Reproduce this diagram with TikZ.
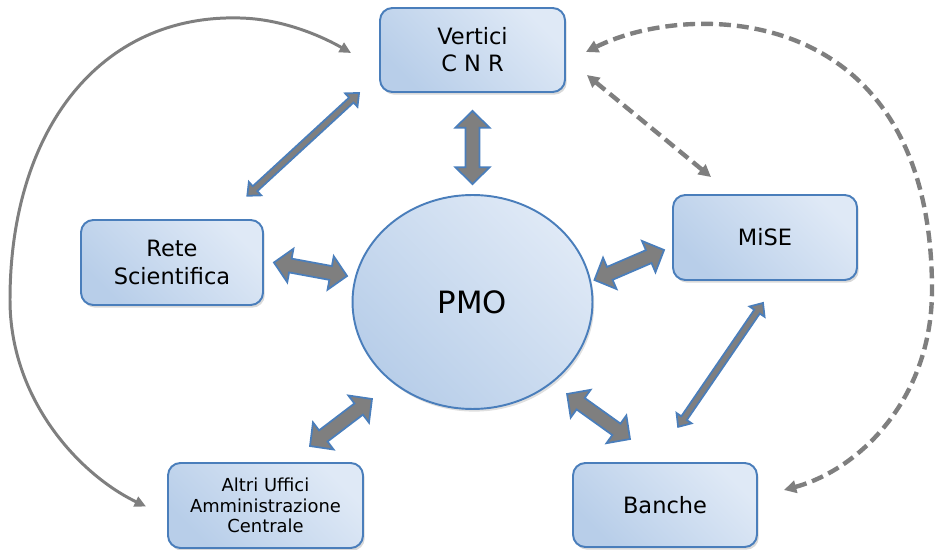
\documentclass[tikz,border=0pt]{standalone}
\usepackage{fontspec}
\setmainfont{DejaVu Sans}
\usetikzlibrary{arrows.meta,calc,shapes.geometric,shadows}

\definecolor{boxline}{HTML}{4A7EBB}
\definecolor{boxlight}{HTML}{DFE9F6}
\definecolor{boxdark}{HTML}{B8CEE9}
\definecolor{arrowgray}{HTML}{7F7F7F}

\begin{document}
\begin{tikzpicture}[x=0.02cm, y=-0.02cm,
    unit/.style={draw=boxline, line width=1.1pt, rounded corners=7pt, inner sep=1pt,
      minimum width=3.7cm, minimum height=1.68cm, align=center,
      font=\fontsize{12.8}{15.5}\selectfont,
      top color=boxlight, bottom color=boxdark, shading angle=-45,
      drop shadow={opacity=0.3, shadow xshift=1pt, shadow yshift=-1.5pt}},
    hub/.style={ellipse, draw=boxline, line width=1.1pt, minimum width=4.8cm, minimum height=4.28cm,
      font=\fontsize{17.5}{20}\selectfont,
      top color=boxlight, bottom color=boxdark, shading angle=-45,
      drop shadow={opacity=0.25, shadow xshift=1pt, shadow yshift=-1.5pt}},
    blockarrow/.style n args={3}{draw=boxline, fill=arrowgray, line width=1pt, line join=miter,
      to path={let \p1=(\tikztostart), \p2=(\tikztotarget),
        \n1={atan2(\y2-\y1,\x2-\x1)}, \n2={veclen(\x2-\x1,\y2-\y1)} in
        [shift={(\p1)}, rotate=\n1]
        (0pt,0pt) -- (#1,#2) -- (#1,#3) -- ({\n2*1pt-#1},#3) -- ({\n2*1pt-#1},#2)
        -- ({\n2*1pt},0pt) -- ({\n2*1pt-#1},-#2) -- ({\n2*1pt-#1},-#3) -- (#1,-#3) -- (#1,-#2) -- cycle}},
    wide/.style={blockarrow={9.5pt}{9.7pt}{4pt}},
    slim/.style={blockarrow={6pt}{5.2pt}{1.9pt}},
    linkarc/.style={draw=arrowgray, line width=1.7pt,
      {Triangle[length=6.5pt,width=6pt]}-{Triangle[length=6.5pt,width=6pt]}},
    dasharc/.style={draw=arrowgray, line width=2.5pt, dash pattern=on 6.8pt off 3.4pt,
      {Triangle[length=7pt,width=7pt]}-{Triangle[length=7pt,width=7pt]}}
  ]
  \useasboundingbox (0,0) rectangle (937,550);

  \node[unit] (vert) at (472.5,50) {Vertici\\C N R};
  \node[unit, minimum width=3.64cm, minimum height=1.7cm] (rete) at (172,262.5) {Rete\\Scientifica};
  \node[unit, minimum width=3.68cm, minimum height=1.7cm] (mise) at (765,237.5) {MiSE};
  \node[unit, minimum width=3.68cm] (banche) at (665,505) {Banche};
  \node[unit, minimum width=3.9cm, minimum height=1.7cm, font=\fontsize{10.2}{11.8}\selectfont] (altri) at (265.5,505.5)
    {Altri Uffici\\Amministrazione\\Centrale};
  \node[hub] (pmo) at (472.5,302) {PMO};

  \draw[wide] ($(vert.south)+(0,18)$) to ($(pmo.north)+(0,-10)$);
  \draw[wide] ($(rete.east)+(10,0)$) to ($(pmo.west)+(-4.5,-26)$);
  \draw[wide] ($(mise.west)+(-8,12.5)$) to ($(pmo.east)+(1,-22)$);
  \draw[wide] ($(banche.north)+(-35,-23)$) to ($(pmo.south)+(94.5,-16)$);
  \draw[wide] ($(altri.north)+(44.5,-16)$) to ($(pmo.south)+(-100.5,-11)$);

  \draw[slim] ($(vert.south west)+(-20,0)$) to ($(rete.north)+(75,-23)$);
  \draw[slim] ($(mise.south)+(-2,22)$) to ($(banche.north)+(13,-35)$);

  \draw[dasharc] ($(vert.east)+(21,25)$) -- ($(mise.north)+(-54,-17)$);
  \draw[dasharc] ($(banche.east)+(26,-15)$) .. controls (858,470) and (932,400) .. (932,290)
    .. controls (932,0) and (690,0) .. ($(vert.east)+(20,2)$);
  \draw[linkarc] ($(altri.west)+(-21,1)$) .. controls (80,475) and (10,400) .. (10,300)
    .. controls (10,130) and (100,14) .. (240,18)
    .. controls (285,19) and (325,38) .. ($(vert.west)+(-28,3)$);
\end{tikzpicture}
\end{document}
